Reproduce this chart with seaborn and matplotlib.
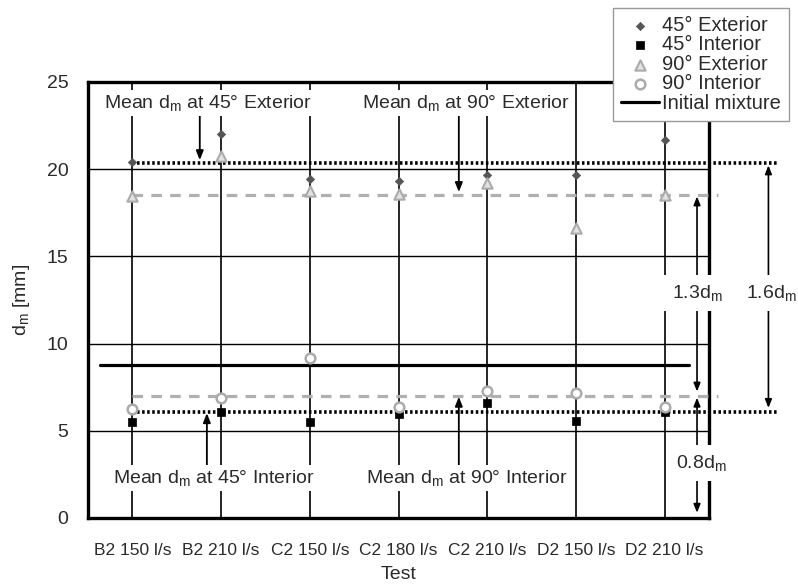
import matplotlib
matplotlib.use("Agg")
import matplotlib.pyplot as plt
import seaborn as sns
import numpy as np
import pandas as pd

sns.set_style("white")
plt.rcParams['font.family'] = ['Liberation Sans', 'DejaVu Sans']
plt.rcParams['mathtext.fontset'] = 'custom'
plt.rcParams['mathtext.rm'] = 'Liberation Sans'
plt.rcParams['mathtext.it'] = 'Liberation Sans:italic'
plt.rcParams['text.color'] = '#2b2b2b'

# datos
tests = ['B2 150 l/s', 'B2 210 l/s', 'C2 150 l/s', 'C2 180 l/s',
         'C2 210 l/s', 'D2 150 l/s', 'D2 210 l/s']
ext45 = [20.4, 22.0, 19.45, 19.3, 19.65, 19.65, 21.65]
int45 = [5.5, 6.1, 5.5, 5.95, 6.6, 5.55, 6.05]
ext90 = [18.45, 20.75, 18.75, 18.6, 19.2, 16.6, 18.5]
int90 = [6.25, 6.9, 9.15, 6.35, 7.3, 7.15, 6.35]
initial_mixture = 8.77
mean_ext45 = 20.37
mean_int45 = 6.06
mean_ext90 = 18.54
mean_int90 = 7.0

df = pd.DataFrame({'Test': tests, 'pos': np.arange(len(tests)),
                   'ext45': ext45, 'int45': int45,
                   'ext90': ext90, 'int90': int90})

fig = plt.figure(figsize=(7.98, 5.85), dpi=100)
ax = fig.add_axes([88 / 798, 67 / 585, 621 / 798, 436 / 585])

# rejilla: verticales en cada ensayo, horizontales cada 5 mm
ax.set_xlim(-0.5, 6.5)
ax.set_ylim(0, 25)
ax.set_xticks(np.arange(-0.5, 7.0, 1.0))
ax.set_xticks(df['pos'], minor=True)
ax.set_xticklabels([''] * 8)
ax.set_xticklabels(tests, minor=True, fontsize=12.5, color='#2b2b2b')
ax.set_yticks([0, 5, 10, 15, 20, 25])
ax.tick_params(axis='x', which='major', direction='out', length=5, width=1, color='#444')
ax.tick_params(axis='x', which='minor', length=0, pad=18)
ax.tick_params(axis='y', direction='out', length=6, width=1, color='#444',
               labelsize=14, labelcolor='#2b2b2b', pad=8)
ax.xaxis.grid(True, which='minor', color='black', lw=1.2)
ax.yaxis.grid(True, which='major', color='black', lw=1.0)
ax.set_axisbelow(True)
for s in ax.spines.values():
    s.set_linewidth(2.4)
    s.set_color('black')

# lineas medias
dot = (0, (0.7, 0.7))
dash = (0, (3.3, 2.6))
ax.hlines(mean_ext45, 0, 7.27, colors='black', linestyles=dot, lw=2.6, clip_on=False, zorder=3)
ax.hlines(mean_int45, 0, 7.27, colors='black', linestyles=dot, lw=2.6, clip_on=False, zorder=3)
ax.hlines(mean_ext90, 0, 6.6, colors='#b0b0b0', linestyles=dash, lw=2.3, clip_on=False, zorder=3)
ax.hlines(mean_int90, 0, 6.6, colors='#b0b0b0', linestyles=dash, lw=2.3, clip_on=False, zorder=3)
line_init, = ax.plot([-0.36, 6.28], [initial_mixture, initial_mixture],
                     color='black', lw=2.3, zorder=3, label='Initial mixture')

# puntos
sns.scatterplot(data=df, x='pos', y='ext45', marker='D', s=18, color='#555555',
                edgecolor='#555555', linewidth=0.5, ax=ax, zorder=4, label='45° Exterior')
sns.scatterplot(data=df, x='pos', y='int45', marker='s', s=34, color='black',
                edgecolor='black', linewidth=0.5, ax=ax, zorder=4, label='45° Interior')
sns.scatterplot(data=df, x='pos', y='ext90', marker='^', s=55, color='#e2e2e2',
                edgecolor='#ababab', linewidth=1.5, ax=ax, zorder=4, label='90° Exterior')
sns.scatterplot(data=df, x='pos', y='int90', marker='o', s=48, color='white',
                edgecolor='#ababab', linewidth=1.8, ax=ax, zorder=4, label='90° Interior')

ax.set_xlabel('Test', fontsize=14, labelpad=6, color='#2b2b2b')
ax.set_ylabel('d$_{\\rm m}$ [mm]', fontsize=14, labelpad=11, color='#2b2b2b')

# textos con fondo blanco
box = dict(facecolor='white', edgecolor='none', pad=2)
tkw = dict(fontsize=14, ha='center', va='center', bbox=box, zorder=6)
ax.text(0.85, 23.8, 'Mean d$_{\\rm m}$ at 45° Exterior', **tkw)
ax.text(3.76, 23.8, 'Mean d$_{\\rm m}$ at 90° Exterior', **tkw)
ax.text(0.92, 2.3, 'Mean d$_{\\rm m}$ at 45° Interior', **tkw)
ax.text(3.77, 2.3, 'Mean d$_{\\rm m}$ at 90° Interior', **tkw)

akw = dict(arrowstyle='-|>,head_length=0.55,head_width=0.22', color='black', lw=1.3,
           shrinkA=0, shrinkB=0)
ax.annotate('', xy=(0.76, mean_ext45 + 0.15), xytext=(0.76, 23.1), arrowprops=akw, zorder=5)
ax.annotate('', xy=(3.68, mean_ext90 + 0.15), xytext=(3.68, 23.1), arrowprops=akw, zorder=5)
ax.annotate('', xy=(0.84, mean_int45 - 0.05), xytext=(0.84, 2.95), arrowprops=akw, zorder=5)
ax.annotate('', xy=(3.68, mean_int90 - 0.05), xytext=(3.68, 2.95), arrowprops=akw, zorder=5)

# cotas
dkw = dict(arrowstyle='<|-|>,head_length=0.5,head_width=0.2', color='black', lw=1.2,
           shrinkA=0, shrinkB=0)
ax.annotate('', xy=(7.17, mean_int45 + 0.25), xytext=(7.17, mean_ext45 - 0.15),
            arrowprops=dkw, annotation_clip=False, zorder=5)
ax.annotate('', xy=(6.365, mean_int90 + 0.25), xytext=(6.365, mean_ext90 - 0.1),
            arrowprops=dkw, annotation_clip=False, zorder=5)
ax.annotate('', xy=(6.365, 0.3), xytext=(6.365, mean_int90 - 0.1),
            arrowprops=dkw, annotation_clip=False, zorder=5)
box2 = dict(facecolor='white', edgecolor='none', pad=6)
ckw = dict(fontsize=14, ha='center', va='center', bbox=box2, zorder=7, clip_on=False)
ax.text(6.37, 12.9, '1.3d$_{\\rm m}$', **ckw)
ax.text(7.2, 12.9, '1.6d$_{\\rm m}$', **ckw)
ax.text(6.41, 3.15, '0.8d$_{\\rm m}$', **ckw)

# leyenda
handles, labels = ax.get_legend_handles_labels()
order = ['45° Exterior', '45° Interior', '90° Exterior', '90° Interior', 'Initial mixture']
hmap = dict(zip(labels, handles))
leg = ax.legend([hmap[k] for k in order], order, loc='upper right',
                bbox_to_anchor=(789 / 798, 1 - 8 / 585), bbox_transform=fig.transFigure,
                fontsize=14.5, frameon=True, fancybox=False, edgecolor='#9a9a9a',
                framealpha=1, handlelength=1.9, handletextpad=0.15, borderpad=0.4,
                labelspacing=0.02, borderaxespad=0)
leg.get_frame().set_linewidth(1.0)
leg.set_zorder(10)

fig.savefig('out.png', dpi=100)
